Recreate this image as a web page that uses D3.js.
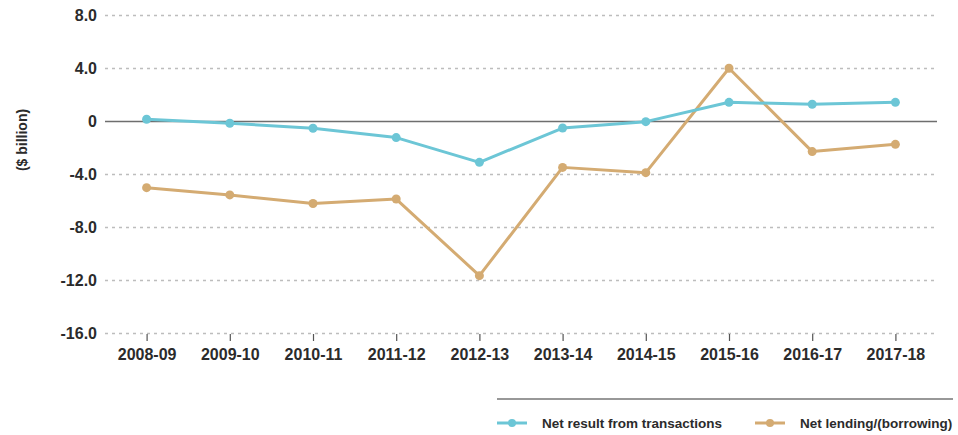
<!DOCTYPE html>
<html>
<head>
<meta charset="utf-8">
<script src="https://cdn.jsdelivr.net/npm/d3@7"></script>
<style>
  body { margin: 0; background: #fff; }
  svg text { font-family: "Liberation Sans", Arial, sans-serif; fill: #2b2b2b; }
</style>
</head>
<body>
<svg id="chart" width="958" height="435"></svg>
<script>
// chart data
var years = ["2008-09", "2009-10", "2010-11", "2011-12", "2012-13",
  "2013-14", "2014-15", "2015-16", "2016-17", "2017-18"];
var netResult = [0.13, -0.17, -0.55, -1.25, -3.12, -0.53, -0.05, 1.41, 1.26, 1.41];
var netLending = [-5.03, -5.58, -6.23, -5.89, -11.67, -3.5, -3.9, 3.98, -2.31, -1.76];
var yTicks = [8, 4, 0, -4, -8, -12, -16];
var seriesNames = ["Net result from transactions", "Net lending/(borrowing)"];

var svgContainer = d3.select("#chart");

var plotLeft = 105, plotRight = 937, plotTop = 15, plotBottom = 333;

var xScale = d3.scalePoint().domain(years).range([plotLeft, plotRight]).padding(0.5);
var yScale = d3.scaleLinear().domain([-16, 8]).range([plotBottom, plotTop]);

// Gridlines + y labels (plain hyphen for negatives, like the original)
var fmt = d3.formatLocale({ decimal: ".", thousands: ",", grouping: [3], currency: ["$", ""], minus: "-" }).format(".1f");
var yAxisGen = d3.axisLeft(yScale)
  .tickValues(yTicks)
  .tickSize(-(plotRight - plotLeft))
  .tickPadding(8)
  .tickFormat(function (d) { return d === 0 ? "0" : fmt(d); });

var yAxis = svgContainer.append("g")
  .attr("transform", "translate(" + plotLeft + ",0)")
  .call(yAxisGen);
yAxis.select(".domain").remove();
yAxis.selectAll(".tick line")
  .attr("stroke", function (d) { return d === 0 ? "#6e6e6e" : "#bdbdbd"; })
  .attr("stroke-width", function (d) { return d === 0 ? 1.5 : 1.3; })
  .attr("stroke-dasharray", function (d) { return d === 0 ? null : "3,4"; });
yAxis.selectAll(".tick text")
  .attr("x", -8)
  .style("font-size", "16px")
  .style("font-weight", "bold")
  .attr("fill", "#2b2b2b");

// X axis ticks
var xAxisGen = d3.axisBottom(xScale).tickSize(7).tickPadding(8);
var xAxis = svgContainer.append("g")
  .attr("transform", "translate(0," + (plotBottom + 1) + ")")
  .call(xAxisGen);
xAxis.select(".domain").remove();
xAxis.selectAll(".tick line").attr("stroke", "#555").attr("stroke-width", 1.2);
xAxis.selectAll(".tick text")
  .style("font-size", "16px")
  .style("font-weight", "bold")
  .attr("fill", "#2b2b2b");

// Y axis title
svgContainer.append("text")
  .attr("transform", "translate(27,140) rotate(-90)")
  .attr("text-anchor", "middle")
  .style("font-size", "14px")
  .style("font-weight", "bold")
  .text("($ billion)");

var colors = ["#6cc6d6", "#d4ab72"];
var allSeries = [netResult, netLending];

// Lines (tan drawn first, blue on top)
[1, 0].forEach(function (s) {
  var line = d3.line()
    .x(function (d, i) { return xScale(years[i]); })
    .y(function (d) { return yScale(d); });

  svgContainer.append("path")
    .datum(allSeries[s])
    .attr("fill", "none")
    .attr("stroke", colors[s])
    .attr("stroke-width", 3)
    .attr("stroke-linejoin", "round")
    .attr("d", line);

  svgContainer.append("g")
    .selectAll("circle")
    .data(allSeries[s])
    .enter()
    .append("circle")
    .attr("cx", function (d, i) { return xScale(years[i]); })
    .attr("cy", function (d) { return yScale(d); })
    .attr("r", 4.5)
    .attr("fill", colors[s]);
});

// Legend
svgContainer.append("line")
  .attr("x1", 497).attr("x2", 953)
  .attr("y1", 399).attr("y2", 399)
  .attr("stroke", "#333")
  .attr("stroke-width", 1.2);

var legendX = [497, 755];
seriesNames.forEach(function (name, i) {
  var g = svgContainer.append("g").attr("transform", "translate(" + legendX[i] + ",423)");
  g.append("line")
    .attr("x1", 0).attr("x2", 30)
    .attr("stroke", colors[i])
    .attr("stroke-width", 3);
  g.append("circle")
    .attr("cx", 15).attr("r", 4)
    .attr("fill", colors[i]);
  g.append("text")
    .attr("x", 45)
    .attr("y", 5)
    .style("font-size", "13.5px")
    .style("font-weight", "bold")
    .text(name);
});
</script>
</body>
</html>
